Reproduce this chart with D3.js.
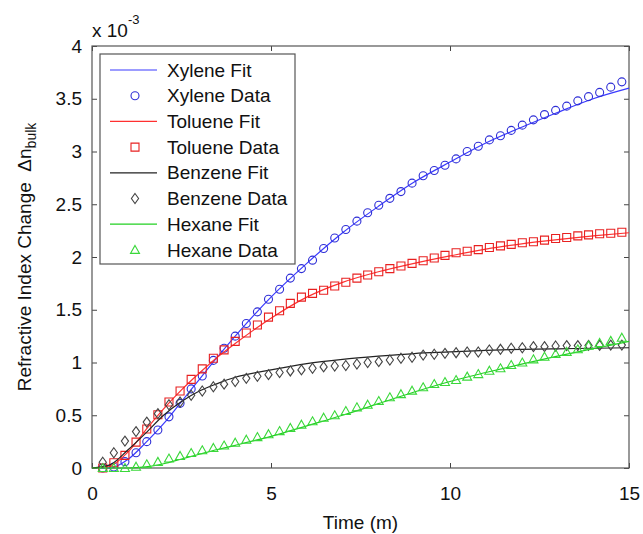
<!DOCTYPE html>
<html>
<head>
<meta charset="utf-8">
<script src="https://cdn.jsdelivr.net/npm/d3@7"></script>
<style>
  body { margin: 0; background: #fff; }
  svg text { font-family: "Liberation Sans", Arial, sans-serif; fill: #111; }
</style>
</head>
<body>
<script>
// ---- data (values in units of 1e-3) ----
var dataTime = [0.3, 0.61, 0.92, 1.23, 1.53, 1.84, 2.15, 2.46, 2.77, 3.08, 3.39, 3.69, 4.0, 4.31, 4.62, 4.93,
    5.24, 5.54, 5.85, 6.16, 6.47, 6.78, 7.09, 7.4, 7.7, 8.01, 8.32, 8.63, 8.94, 9.25, 9.56, 9.86,
    10.17, 10.48, 10.79, 11.1, 11.41, 11.71, 12.02, 12.33, 12.64, 12.95, 13.26, 13.57, 13.87, 14.18, 14.49, 14.8];

var xyleneData = [0.0, 0.01, 0.06, 0.145, 0.25, 0.36, 0.485, 0.613, 0.75, 0.872, 1.02, 1.135, 1.25, 1.37, 1.48, 1.6,
    1.695, 1.8, 1.89, 1.97, 2.08, 2.18, 2.26, 2.34, 2.42, 2.49, 2.556, 2.62, 2.7, 2.77, 2.82, 2.87,
    2.93, 3.0, 3.05, 3.11, 3.15, 3.2, 3.25, 3.3, 3.35, 3.39, 3.43, 3.48, 3.52, 3.56, 3.61, 3.66];

var tolueneData = [0.0, 0.05, 0.12, 0.245, 0.37, 0.505, 0.625, 0.73, 0.84, 0.94, 1.04, 1.12, 1.2, 1.28, 1.355, 1.43,
    1.49, 1.56, 1.62, 1.655, 1.685, 1.725, 1.76, 1.8, 1.83, 1.86, 1.89, 1.915, 1.94, 1.965, 1.99, 2.015,
    2.04, 2.055, 2.07, 2.09, 2.105, 2.12, 2.135, 2.145, 2.16, 2.175, 2.185, 2.2, 2.21, 2.22, 2.225, 2.235];

var benzeneData = [0.055, 0.145, 0.255, 0.345, 0.435, 0.515, 0.6, 0.625, 0.69, 0.73, 0.77, 0.795, 0.82, 0.85, 0.87, 0.885,
    0.905, 0.92, 0.93, 0.945, 0.958, 0.967, 0.972, 0.986, 1.0, 1.008, 1.024, 1.04, 1.05, 1.07, 1.078, 1.087,
    1.093, 1.1, 1.1, 1.118, 1.125, 1.135, 1.14, 1.15, 1.15, 1.156, 1.16, 1.16, 1.162, 1.162, 1.165, 1.165];

var hexaneData = [0.0, 0.0, 0.0, 0.012, 0.035, 0.058, 0.09, 0.114, 0.142, 0.168, 0.19, 0.213, 0.24, 0.268, 0.293, 0.32,
    0.35, 0.38, 0.41, 0.443, 0.477, 0.5, 0.54, 0.575, 0.6, 0.635, 0.67, 0.7, 0.733, 0.765, 0.796, 0.815,
    0.834, 0.866, 0.89, 0.922, 0.945, 0.976, 1.0, 1.03, 1.055, 1.08, 1.1, 1.125, 1.16, 1.185, 1.205, 1.235];

var fitTime    = [0, 0.5, 1, 1.5, 2, 2.5, 3, 3.5, 4, 5, 6, 7, 8, 9, 10, 11, 12, 13, 14, 15];
var xyleneFit  = [0, 0, 0.08, 0.24, 0.42, 0.63, 0.84, 1.05, 1.25, 1.62, 1.94, 2.23, 2.48, 2.71, 2.9, 3.08, 3.23, 3.37, 3.5, 3.6];
var tolueneFit = [0, 0.02, 0.15, 0.36, 0.56, 0.74, 0.9, 1.05, 1.18, 1.42, 1.62, 1.76, 1.86, 1.94, 2.01, 2.075, 2.125, 2.165, 2.2, 2.23];
var benzeneFit = [0, 0.03, 0.17, 0.33, 0.5, 0.63, 0.73, 0.8, 0.86, 0.93, 0.99, 1.03, 1.06, 1.085, 1.1, 1.115, 1.125, 1.13, 1.135, 1.14];
var hexaneFit  = [0, 0, 0, 0.01, 0.04, 0.085, 0.13, 0.175, 0.215, 0.3, 0.4, 0.5, 0.61, 0.72, 0.82, 0.905, 0.985, 1.06, 1.13, 1.2];

var xTicks = [0, 5, 10, 15];
var yTicks = [0, 0.5, 1, 1.5, 2, 2.5, 3, 3.5, 4];

// ---- layout ----
var W = 643, H = 534;
var plotLeft = 92, plotRight = 629, plotTop = 46, plotBottom = 468;
var fontSize = "19px";

var svg = d3.select("body").append("svg")
    .attr("width", W)
    .attr("height", H);

var x = d3.scaleLinear().domain([0, 15]).range([plotLeft, plotRight]);
var y = d3.scaleLinear().domain([0, 4]).range([plotBottom, plotTop]);

// axes (ticks point inward, MATLAB style)
svg.append("g")
    .attr("transform", "translate(0," + plotBottom + ")")
    .call(d3.axisBottom(x).tickValues(xTicks).tickSizeInner(-5).tickSizeOuter(0).tickPadding(19).tickFormat(d3.format("")));
svg.append("g")
    .attr("transform", "translate(" + plotLeft + ",0)")
    .call(d3.axisLeft(y).tickValues(yTicks).tickSizeInner(-5).tickSizeOuter(0).tickPadding(10).tickFormat(d3.format("")));
svg.append("g")
    .attr("transform", "translate(0," + plotTop + ")")
    .call(d3.axisTop(x).tickValues(xTicks).tickSizeInner(-5).tickSizeOuter(0).tickFormat(""));
svg.append("g")
    .attr("transform", "translate(" + plotRight + ",0)")
    .call(d3.axisRight(y).tickValues(yTicks).tickSizeInner(-5).tickSizeOuter(0).tickFormat(""));

svg.selectAll(".domain").remove();
svg.selectAll(".tick line").attr("stroke", "#444").attr("stroke-width", 1);
svg.selectAll(".tick text").style("font-size", fontSize).attr("fill", "#111");

// frame
svg.append("rect")
    .attr("x", plotLeft).attr("y", plotTop)
    .attr("width", plotRight - plotLeft).attr("height", plotBottom - plotTop)
    .attr("fill", "none").attr("stroke", "#555").attr("stroke-width", 1.2);

// ---- series ----
var series = [
    { name: "Xylene",  fit: xyleneFit,  data: xyleneData,  line: "#3a3aff", mark: "#2e2ed6", shape: "circle" },
    { name: "Toluene", fit: tolueneFit, data: tolueneData, line: "#ff3030", mark: "#e82020", shape: "square" },
    { name: "Benzene", fit: benzeneFit, data: benzeneData, line: "#222222", mark: "#444444", shape: "diamond" },
    { name: "Hexane",  fit: hexaneFit,  data: hexaneData,  line: "#22d022", mark: "#3ad83a", shape: "triangle" }
];

var line = d3.line()
    .x(function(d) { return x(d[0]); })
    .y(function(d) { return y(d[1]); })
    .curve(d3.curveMonotoneX);

function markerPath(shape, cx, cy) {
    if (shape === "square") {
        return "M" + (cx - 4) + "," + (cy - 4) + "h8v8h-8Z";
    } else if (shape === "diamond") {
        return "M" + cx + "," + (cy - 5) + "L" + (cx + 3.6) + "," + cy + "L" + cx + "," + (cy + 5) + "L" + (cx - 3.6) + "," + cy + "Z";
    } else if (shape === "triangle") {
        return "M" + cx + "," + (cy - 4.5) + "L" + (cx + 4.5) + "," + (cy + 3.5) + "L" + (cx - 4.5) + "," + (cy + 3.5) + "Z";
    }
    // circle
    return "M" + (cx - 4) + "," + cy + "a4,4 0 1,0 8,0a4,4 0 1,0 -8,0Z";
}

var plot = svg.append("g");

series.forEach(function(s) {
    plot.append("path")
        .datum(fitTime.map(function(t, i) { return [t, s.fit[i]]; }))
        .attr("d", line)
        .attr("fill", "none")
        .attr("stroke", s.line)
        .attr("stroke-width", 1.2);

    plot.selectAll(null)
        .data(dataTime.map(function(t, i) { return [t, s.data[i]]; }))
        .join("path")
            .attr("d", function(d) { return markerPath(s.shape, x(d[0]), y(d[1])); })
            .attr("fill", "none")
            .attr("stroke", s.mark)
            .attr("stroke-width", 1.1);
});

// ---- legend ----
var legend = svg.append("g");
legend.append("rect")
    .attr("x", 100).attr("y", 54)
    .attr("width", 195).attr("height", 210)
    .attr("fill", "#fff").attr("stroke", "#555").attr("stroke-width", 1.2);

series.forEach(function(s, i) {
    var y1 = 70 + (2 * i) * 25.7;
    var y2 = 70 + (2 * i + 1) * 25.7;
    legend.append("line")
        .attr("x1", 110).attr("x2", 157)
        .attr("y1", y1).attr("y2", y1)
        .attr("stroke", s.line).attr("stroke-width", 1.2);
    legend.append("text")
        .attr("x", 167).attr("y", y1).attr("dy", "0.35em")
        .style("font-size", fontSize)
        .text(s.name + " Fit");
    legend.append("path")
        .attr("d", markerPath(s.shape, 135, y2))
        .attr("fill", "none").attr("stroke", s.mark).attr("stroke-width", 1.1);
    legend.append("text")
        .attr("x", 167).attr("y", y2).attr("dy", "0.35em")
        .style("font-size", fontSize)
        .text(s.name + " Data");
});

// ---- labels ----
svg.append("text")
    .attr("x", (plotLeft + plotRight) / 2).attr("y", 529)
    .attr("text-anchor", "middle")
    .style("font-size", fontSize)
    .text("Time (m)");

var yl = svg.append("text")
    .attr("transform", "translate(31," + ((plotTop + plotBottom) / 2) + ") rotate(-90)")
    .attr("text-anchor", "middle")
    .style("font-size", fontSize);
yl.append("tspan").text("Refractive Index Change \u00a0\u0394n");
yl.append("tspan").attr("dy", 5).style("font-size", "14px").text("bulk");

var ex = svg.append("text")
    .attr("x", 92).attr("y", 37)
    .style("font-size", fontSize);
ex.append("tspan").text("x 10");
ex.append("tspan").attr("dy", -13).style("font-size", "13px").text("-3");
</script>
</body>
</html>
